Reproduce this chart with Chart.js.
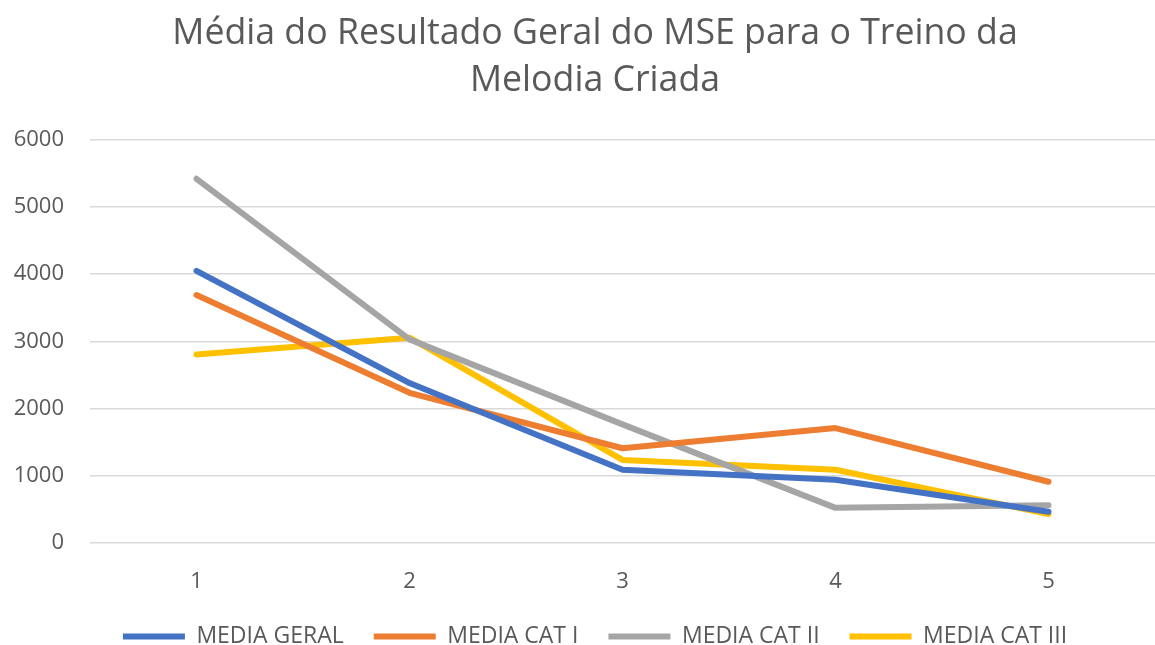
<!DOCTYPE html>
<html>
<head>
<meta charset="utf-8">
<script src="https://cdn.jsdelivr.net/npm/chart.js@4/dist/chart.umd.min.js"></script>
<style>
    html, body { margin: 0; padding: 0; background: #fff; }
    #chart_container { width: 1155px; height: 645px; }
</style>
</head>
<body>
<div id="chart_container"><canvas id="myChart"></canvas></div>
<script>
const categories = ["1", "2", "3", "4", "5"];
const mediaGeral = [4050, 2380, 1090, 940, 465];
const mediaCatI = [3690, 2235, 1410, 1710, 912];
const mediaCatII = [5420, 3030, 1765, 523, 563];
const mediaCatIII = [2805, 3055, 1236, 1090, 430];
const yTicks = [0, 1000, 2000, 3000, 4000, 5000, 6000];

const font = "'Open Sans', 'Noto Sans', sans-serif";

function line(label, data, color) {
    return {
        label,
        data,
        borderColor: color,
        backgroundColor: color,
        borderWidth: 6,
        borderCapStyle: "round",
        borderJoinStyle: "round",
        pointRadius: 0,
        tension: 0,
        fill: false
    };
}

const ctx = document.getElementById("myChart").getContext("2d");
new Chart(ctx, {
    type: "line",
    data: {
        labels: categories,
        datasets: [
            line("MEDIA GERAL", mediaGeral, "#4472C4"),
            line("MEDIA CAT I", mediaCatI, "#ED7D31"),
            line("MEDIA CAT II", mediaCatII, "#A5A5A5"),
            line("MEDIA CAT III", mediaCatIII, "#FFC000")
        ]
    },
    options: {
        responsive: true,
        maintainAspectRatio: false,
        animation: false,
        // negative right padding only moves the centred title and legend
        layout: { padding: { left: 0, right: -35, top: 11, bottom: -13 } },
        plugins: {
            title: {
                display: true,
                text: ["Média do Resultado Geral do MSE para o Treino da", "Melodia Criada"],
                color: "#595959",
                font: { family: font, size: 35.7, weight: "normal", lineHeight: 1.3 },
                padding: { top: 0, bottom: 36 }
            },
            legend: {
                position: "bottom",
                onClick: null,
                labels: {
                    usePointStyle: true,
                    pointStyle: "line",
                    pointStyleWidth: 62,
                    color: "#595959",
                    padding: 30,
                    font: { family: font, size: 23 }
                }
            },
            tooltip: { enabled: false }
        },
        scales: {
            x: {
                offset: true,
                afterFit: (axis) => { axis.height = 52; },
                grid: { display: false, drawTicks: false },
                border: { display: false },
                ticks: {
                    color: "#595959",
                    padding: 26,
                    font: { family: font, size: 22 }
                }
            },
            y: {
                min: 0,
                max: 6000,
                afterBuildTicks: (axis) => { axis.ticks = yTicks.map(v => ({ value: v })); },
                afterFit: (axis) => { axis.width = 90; },
                grid: { color: "#D9D9D9", lineWidth: 1.5, drawTicks: false },
                border: { display: false },
                ticks: {
                    color: "#595959",
                    padding: 26,
                    font: { family: font, size: 22 },
                    callback: (value) => String(value)
                }
            }
        }
    }
});
</script>
</body>
</html>
